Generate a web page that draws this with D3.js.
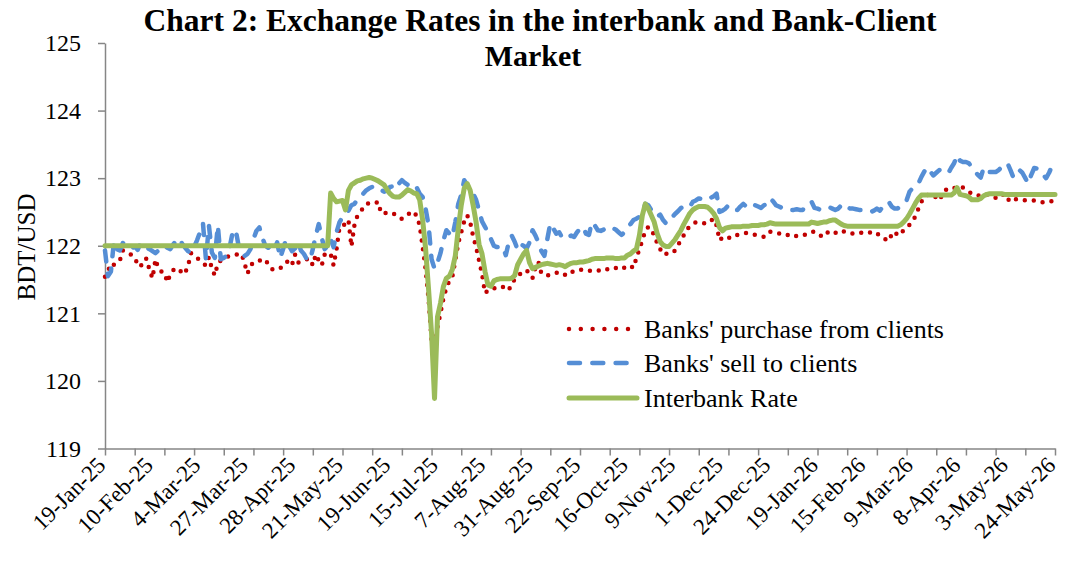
<!DOCTYPE html>
<html>
<head>
<meta charset="utf-8">
<script src="https://cdn.jsdelivr.net/npm/d3@7"></script>
<style>
  body { margin: 0; background: #fff; }
  svg { display: block; }
  text { font-family: "Liberation Serif", "Times New Roman", serif; fill: #000; }
</style>
</head>
<body>
<svg id="chart" width="1065" height="563"></svg>
<script>
// Category labels (one every 16 business days) and tick spacing
const tickLabels = ["19-Jan-25","10-Feb-25","4-Mar-25","27-Mar-25","28-Apr-25","21-May-25",
  "19-Jun-25","15-Jul-25","7-Aug-25","31-Aug-25","22-Sep-25","16-Oct-25","9-Nov-25",
  "1-Dec-25","24-Dec-25","19-Jan-26","15-Feb-26","9-Mar-26","8-Apr-26","3-May-26","24-May-26"];
const labelStep = 16;
const tickStep = 10;
const yTicks = [119, 120, 121, 122, 123, 124, 125];

// Banks' purchase from clients (BDT/USD), daily
const purchase = [
  121.54,121.62,121.74,121.72,121.76,121.78,121.93,121.90,121.89,121.86,
  121.83,121.72,121.69,121.80,121.81,121.64,121.52,121.80,121.66,121.62,
  121.60,121.46,121.58,121.64,121.66,121.66,121.58,121.60,121.71,121.89,
  121.86,121.82,121.78,121.74,121.71,121.83,121.66,121.56,121.74,121.78,
  121.81,121.83,121.85,121.86,121.87,121.87,121.88,121.74,121.59,121.70,
  121.76,121.77,121.78,121.79,121.80,121.72,121.66,121.64,121.65,121.67,
  121.69,121.75,121.78,121.72,121.87,121.75,121.77,121.78,121.80,121.81,
  121.71,121.87,121.78,121.71,121.87,121.90,121.88,121.71,121.95,122.28,
  122.30,122.32,122.38,121.99,122.30,122.44,122.50,122.56,122.62,122.63,
  122.64,122.63,122.65,122.48,122.49,122.48,122.49,122.48,122.45,122.41,
  122.40,122.42,122.45,122.51,122.48,122.45,122.30,121.98,121.65,121.20,
  120.60,120.45,120.80,121.00,121.22,121.38,121.48,121.54,121.78,122.04,
  122.20,122.36,122.45,122.35,122.14,121.98,121.78,121.58,121.30,121.34,
  121.37,121.37,121.38,121.40,121.39,121.36,121.34,121.45,121.50,121.55,
  121.59,121.61,121.64,121.58,121.52,121.68,121.76,121.59,121.57,121.56,
  121.57,121.59,121.60,121.61,121.60,121.57,121.56,121.60,121.63,121.64,
  121.64,121.65,121.64,121.63,121.63,121.62,121.63,121.64,121.63,121.65,
  121.67,121.68,121.67,121.66,121.65,121.68,121.71,121.70,121.67,121.82,
  121.95,122.08,122.22,122.28,122.25,122.15,122.04,121.95,121.87,121.88,
  121.89,121.89,121.93,122.01,122.08,122.16,122.24,122.29,122.32,122.35,
  122.35,122.34,122.33,122.33,122.37,122.40,122.30,122.08,122.12,122.14,
  122.12,122.11,122.13,122.16,122.17,122.18,122.19,122.18,122.17,122.16,
  122.15,122.14,122.13,122.18,122.21,122.20,122.19,122.18,122.19,122.18,
  122.16,122.14,122.13,122.15,122.16,122.17,122.16,122.18,122.20,122.21,
  122.18,122.15,122.13,122.18,122.22,122.20,122.19,122.21,122.23,122.21,
  122.19,122.18,122.18,122.19,122.20,122.19,122.18,122.19,122.20,122.21,
  122.18,122.15,122.13,122.09,122.07,122.17,122.21,122.15,122.18,122.23,
  122.27,122.31,122.38,122.43,122.55,122.65,122.72,122.75,122.77,122.75,
  122.71,122.67,122.75,122.82,122.85,122.84,122.85,122.87,122.88,122.86,
  122.83,122.80,122.77,122.75,122.74,122.75,122.76,122.76,122.76,122.74,
  122.71,122.70,122.74,122.77,122.70,122.65,122.68,122.69,122.68,122.68,
  122.67,122.67,122.67,122.67,122.66,122.65,122.64,122.65,122.66,122.66,
  122.66
];

// Banks' sell to clients (BDT/USD), daily
const sell = [
  121.93,121.55,121.62,122.06,121.95,121.93,122.04,122.03,121.98,121.96,
  121.99,121.94,122.04,122.01,121.97,121.95,121.92,121.89,121.93,121.98,
  122.00,121.97,121.95,122.02,122.08,122.11,122.03,121.97,121.92,121.89,
  121.98,122.08,122.20,122.33,121.80,122.30,121.90,121.82,122.30,121.80,
  121.82,121.85,121.98,122.20,122.24,122.00,121.90,121.85,121.88,121.95,
  122.10,122.22,122.27,122.12,122.00,121.97,122.02,121.95,122.05,121.82,
  121.95,122.10,122.00,121.92,121.96,122.05,121.93,121.88,121.80,121.78,
  121.95,122.15,122.32,122.12,121.95,122.00,122.10,121.98,122.20,122.35,
  122.42,122.46,122.52,122.60,122.62,122.68,122.74,122.77,122.82,122.85,
  122.87,122.86,122.87,122.83,122.80,122.82,122.87,122.88,122.84,122.92,
  122.97,122.93,122.90,122.91,122.92,122.86,122.77,122.72,122.55,122.30,
  121.80,121.66,121.75,121.89,122.08,122.23,122.18,122.13,122.35,122.62,
  122.75,122.97,122.90,122.83,122.77,122.68,122.52,122.36,122.28,122.20,
  122.10,122.00,121.98,121.99,121.99,121.86,122.05,122.15,122.06,121.94,
  122.02,122.00,121.96,122.05,122.23,122.15,122.05,121.92,121.85,122.10,
  122.33,122.26,122.18,122.20,122.12,122.10,122.12,122.15,122.13,122.20,
  122.25,122.28,122.18,122.16,122.35,122.30,122.23,122.22,122.24,122.23,
  122.22,122.26,122.24,122.20,122.16,122.20,122.28,122.32,122.38,122.40,
  122.43,122.48,122.62,122.60,122.53,122.48,122.43,122.46,122.38,122.33,
  122.35,122.42,122.47,122.51,122.56,122.57,122.55,122.58,122.65,122.67,
  122.70,122.69,122.67,122.68,122.71,122.73,122.77,122.50,122.52,122.55,
  122.60,122.57,122.53,122.53,122.58,122.62,122.58,122.55,122.58,122.60,
  122.58,122.56,122.60,122.62,122.70,122.66,122.60,122.58,122.56,122.57,
  122.55,122.53,122.53,122.54,122.53,122.53,122.58,122.60,122.65,122.56,
  122.55,122.53,122.53,122.55,122.57,122.55,122.53,122.55,122.60,122.62,
  122.58,122.55,122.55,122.54,122.53,122.53,122.51,122.50,122.50,122.52,
  122.55,122.52,122.58,122.62,122.65,122.58,122.55,122.55,122.60,122.64,
  122.67,122.80,122.85,122.88,122.92,123.02,123.10,123.16,123.10,123.04,
  123.08,123.12,123.10,123.08,123.07,123.15,123.22,123.34,123.26,123.24,
  123.24,123.22,123.16,123.10,123.05,123.01,123.16,123.12,123.09,123.09,
  123.09,123.12,123.16,123.20,123.22,123.12,123.01,123.06,123.12,123.08,
  123.00,122.92,123.05,123.15,123.14,123.12,123.05,123.00,123.08,123.18,
  123.26
];

// Interbank rate (BDT/USD), daily
const interbank = [
  122.00,122.00,122.00,122.00,122.00,122.00,122.00,122.00,122.00,122.00,
  122.00,122.00,122.00,122.00,122.00,122.00,122.00,122.00,122.00,122.00,
  122.00,122.00,122.00,122.00,122.00,122.00,122.00,122.00,122.00,122.00,
  122.00,122.00,122.00,122.00,122.00,122.00,122.00,122.00,122.00,122.00,
  122.00,122.00,122.00,122.00,122.00,122.00,122.00,122.00,122.00,122.00,
  122.00,122.00,122.00,122.00,122.00,122.00,122.00,122.00,122.00,122.00,
  122.00,122.00,122.00,122.00,122.00,122.00,122.00,122.00,122.00,122.00,
  122.00,122.00,122.00,122.00,122.00,122.00,122.78,122.70,122.65,122.66,
  122.67,122.53,122.82,122.90,122.93,122.96,122.97,122.99,123.00,123.01,
  123.00,122.98,122.96,122.93,122.90,122.83,122.77,122.73,122.72,122.72,
  122.75,122.79,122.83,122.81,122.78,122.77,122.68,122.38,121.95,121.35,
  120.70,119.74,120.95,121.15,121.40,121.52,121.55,121.65,121.85,122.25,
  122.60,122.85,122.92,122.82,122.60,122.35,122.02,121.88,121.62,121.42,
  121.40,121.48,121.50,121.51,121.51,121.51,121.51,121.52,121.56,121.72,
  121.80,121.88,121.93,121.75,121.66,121.68,121.70,121.72,121.73,121.74,
  121.73,121.72,121.71,121.72,121.71,121.69,121.72,121.74,121.75,121.75,
  121.76,121.76,121.77,121.78,121.80,121.81,121.81,121.81,121.81,121.82,
  121.82,121.82,121.81,121.81,121.82,121.82,121.86,121.88,121.92,121.95,
  122.15,122.45,122.62,122.55,122.45,122.35,122.18,122.06,122.01,121.99,
  121.99,122.04,122.09,122.16,122.23,122.32,122.40,122.48,122.53,122.56,
  122.58,122.58,122.58,122.57,122.53,122.48,122.40,122.27,122.22,122.26,
  122.27,122.28,122.28,122.28,122.28,122.29,122.29,122.29,122.30,122.30,
  122.30,122.31,122.31,122.32,122.34,122.33,122.32,122.32,122.32,122.32,
  122.32,122.32,122.32,122.32,122.32,122.32,122.32,122.32,122.35,122.34,
  122.33,122.34,122.35,122.35,122.37,122.38,122.38,122.35,122.32,122.30,
  122.29,122.29,122.29,122.29,122.29,122.29,122.29,122.29,122.29,122.29,
  122.29,122.29,122.29,122.29,122.29,122.29,122.29,122.29,122.31,122.35,
  122.40,122.47,122.55,122.63,122.70,122.75,122.75,122.75,122.75,122.75,
  122.75,122.75,122.75,122.75,122.75,122.75,122.78,122.86,122.76,122.75,
  122.74,122.72,122.68,122.68,122.68,122.70,122.74,122.76,122.77,122.77,
  122.77,122.77,122.77,122.76,122.76,122.76,122.76,122.76,122.76,122.76,
  122.76,122.76,122.76,122.76,122.76,122.76,122.76,122.76,122.76,122.76,
  122.76
];

const series = [
  { name: "Banks' purchase from clients", values: purchase, color: "#C00000", width: 4.5, dash: "0 9", legendDash: "0 11.8" },
  { name: "Banks' sell to clients",       values: sell,     color: "#558ED5", width: 4.5, dash: "11 12.3", legendDash: "11 12.3" },
  { name: "Interbank Rate",               values: interbank, color: "#9BBB59", width: 5,   dash: null, legendDash: null }
];

const svg = d3.select("#chart");
const axisColor = "#868686";

const x = d3.scaleLinear().domain([0, interbank.length - 1]).range([105, 1055]);
const y = d3.scaleLinear().domain([119, 125]).range([448.5, 43]);

// Title
const title = svg.append("text")
  .attr("text-anchor", "middle")
  .attr("font-weight", "bold");
title.append("tspan").attr("x", 540).attr("y", 31).style("font-size", "31.5px")
  .text("Chart 2: Exchange Rates in the interbank and Bank-Client");
title.append("tspan").attr("x", 533).attr("y", 66).style("font-size", "30px")
  .text("Market");

// Y axis
const yAxis = svg.append("g")
  .attr("transform", "translate(105,0)")
  .call(d3.axisLeft(y).tickValues(yTicks).tickSize(7).tickSizeOuter(0).tickPadding(17).tickFormat(d3.format("d")));
yAxis.selectAll("text").style("font-size", "24px").attr("fill", "#000")
  .style("font-family", "'Liberation Serif', serif");

svg.append("text")
  .attr("transform", "translate(35,247) rotate(-90)")
  .attr("text-anchor", "middle")
  .style("font-size", "25px")
  .text("BDT/USD");

// X axis with minor category ticks
const xAxis = svg.append("g")
  .attr("transform", `translate(0,${y(119)})`)
  .call(d3.axisBottom(x).tickValues(d3.range(0, interbank.length, tickStep)).tickSize(7).tickSizeOuter(0).tickFormat(""));

[xAxis, yAxis].forEach(g => {
  g.select(".domain").attr("stroke", axisColor).attr("stroke-width", 1.5);
  g.selectAll(".tick line").attr("stroke", axisColor).attr("stroke-width", 1.5);
});

// Rotated category labels
svg.append("g").selectAll("text")
  .data(tickLabels)
  .join("text")
  .attr("transform", (d, i) => `translate(${x(i * labelStep) + 2},${y(119) + 18}) rotate(-45)`)
  .attr("text-anchor", "end")
  .style("font-size", "23px")
  .text(d => d);

// Series lines
const line = d3.line().x((d, i) => x(i)).y(d => y(d)).curve(d3.curveLinear);
const plot = svg.append("g");
series.forEach(s => {
  plot.append("path")
    .datum(s.values)
    .attr("d", line)
    .attr("fill", "none")
    .attr("stroke", s.color)
    .attr("stroke-width", s.width)
    .attr("stroke-linecap", "round")
    .attr("stroke-linejoin", "round")
    .attr("stroke-dasharray", s.dash);
});

// Legend
const legend = svg.append("g");
const legendY = [329, 363, 398];
const legendEnd = [629, 627, 637];
series.forEach((s, i) => {
  legend.append("line")
    .attr("x1", 569).attr("x2", legendEnd[i])
    .attr("y1", legendY[i]).attr("y2", legendY[i])
    .attr("stroke", s.color)
    .attr("stroke-width", s.width)
    .attr("stroke-linecap", "round")
    .attr("stroke-dasharray", s.legendDash);
  legend.append("text")
    .attr("x", 644).attr("y", legendY[i])
    .attr("dy", "0.33em")
    .style("font-size", "26px")
    .text(s.name);
});
</script>
</body>
</html>
